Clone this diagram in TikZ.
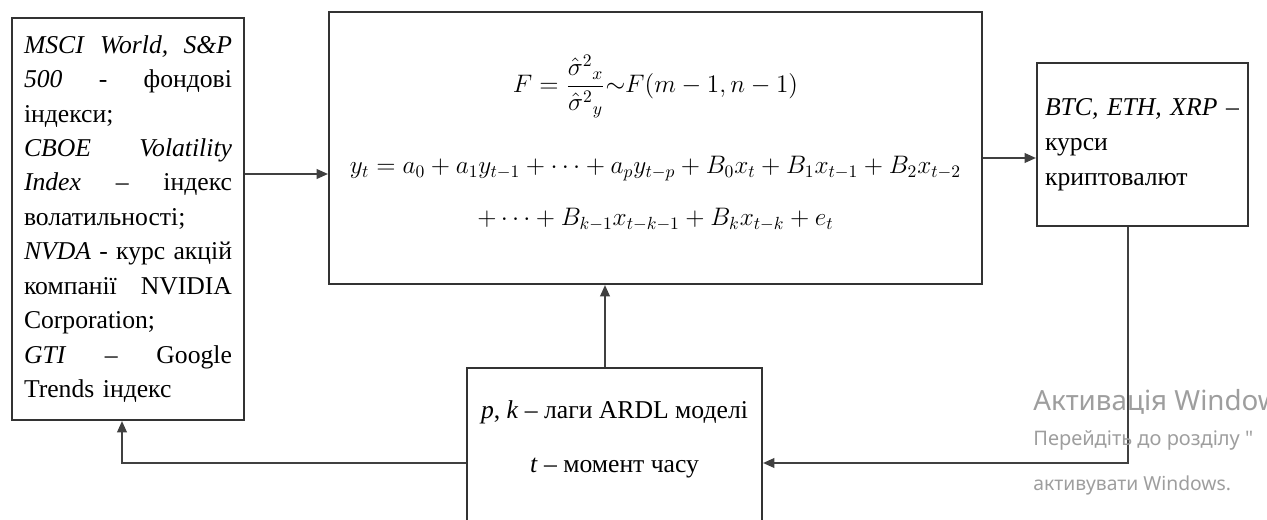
\documentclass[tikz,border=0pt]{standalone}
\usepackage{amsmath}
\usepackage{fontspec}
\setmainfont{Liberation Serif}
\newfontfamily\wmfont{Noto Sans}
\usetikzlibrary{arrows.meta,positioning}

\newcommand{\jline}[1]{\makebox[4.16cm][l]{#1}}

\begin{document}
\begin{tikzpicture}[x=0.02cm,y=-0.02cm,>={Triangle[length=6.5pt,width=5.5pt]},
  font=\fontsize{14.6}{19.6}\selectfont,
  blok/.style={draw=black!80,line width=1.2pt,fill=white,inner sep=0pt},
  zv/.style={draw=black!75,line width=1.1pt,->},
  wm/.style={text=black!38,anchor=west,inner sep=0pt}]
\useasboundingbox (0,0) rectangle (1267,520);
\clip (0,0) rectangle (1267,520);

% blocks
\node[blok,minimum width=4.64cm,minimum height=8.04cm,text width=4.16cm,align=left] (inputs) at (128,219)
  {\jline{\textit{MSCI}\hfill\textit{World,}\hfill\textit{S\&P}}\\
   \jline{\textit{500}\hfill-\hfill фондові}\\
   індекси;\\
   \jline{\textit{CBOE}\hfill\textit{Volatility}}\\
   \jline{\textit{Index}\hfill–\hfill індекс}\\
   волатильності;\\
   \jline{\textit{NVDA}\hfill-\hfill курс\hfill акцій}\\
   \jline{компанії\hfill NVIDIA}\\
   Corporation;\\
   \jline{\textit{GTI}\hfill–\hfill Google}\\
   Trends індекс};
\node[blok,minimum width=13.06cm,minimum height=5.44cm] (model) at (655.5,148) {};
\node[align=center] (formulas) at (655.5,143)
  {$F=\dfrac{\hat{\sigma}^{2}{}_{x}}{\hat{\sigma}^{2}{}_{y}}{\sim}F(m-1,n-1)$\\[21pt]
   $y_t=a_0+a_1y_{t-1}+\cdots+a_py_{t-p}+B_0x_t+B_1x_{t-1}+B_2x_{t-2}$\\[10pt]
   $+\cdots+B_{k-1}x_{t-k-1}+B_kx_{t-k}+e_t$};
\node[blok,minimum width=4.22cm,minimum height=3.26cm,text width=3.9cm,align=left,
  font=\fontsize{14.6}{20}\selectfont] (crypto) at (1142.5,144.5)
  {\textit{BTC, ETH, XRP} –\\курси\\криптовалют};
\node[blok,minimum width=5.9cm,minimum height=3.4cm,anchor=north] (lags) at (614.5,367) {};
\node[align=center] (lagtext) at (614.5,439)
  {\textit{p}, \textit{k} – лаги ARDL моделі\\[11pt]\textit{t} – момент часу};

% connectors
\coordinate (back) at (0,463);
\draw[zv] (inputs.east) ++(0,-45) coordinate (a1) -- (a1 -| model.west);
\draw[zv] (model.east) ++(0,10) coordinate (a2) -- (a2 -| crypto.west);
\draw[zv] (lags.north) ++(-9.5,0) coordinate (a3) -- (a3 |- model.south);
\draw[zv] (crypto.south) ++(-14.5,0) coordinate (a4) |- (back -| lags.east);
\draw[zv] (back -| lags.west) -| ([xshift=-0.12cm]inputs.south);

% watermark
\node[wm,font=\wmfont\fontsize{15.8}{15.8}\selectfont] (wm1) at (1033,402) {Активація Windows};
\node[wm,font=\wmfont\fontsize{11.4}{11.4}\selectfont] (wm2) at (1033,440) {Перейдіть до розділу "};
\node[wm,font=\wmfont\fontsize{11}{11}\selectfont] (wm3) at (1033,485) {активувати Windows.};
\end{tikzpicture}
\end{document}
